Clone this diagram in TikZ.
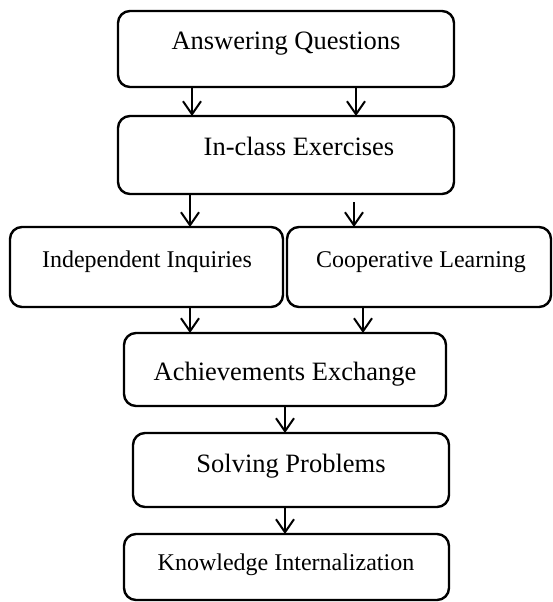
\documentclass[tikz,border=0pt]{standalone}
\usepackage{fontspec}
\setmainfont{Liberation Serif}
\usetikzlibrary{arrows.meta}
\tikzset{
  box/.style={draw, line width=2.4pt, rounded corners=12pt, inner sep=0pt, outer sep=0pt},
  big/.style={font=\fontsize{26.5}{30}\selectfont, anchor=base, inner sep=0pt},
  small/.style={font=\fontsize{24}{28}\selectfont, anchor=base, inner sep=0pt},
  arr/.style={line width=2pt, -{Straight Barb[length=13pt,width=18pt]}}
}
\begin{document}
\begin{tikzpicture}[x=1pt, y=-1pt]
\useasboundingbox (0,0) rectangle (553,602);
% boxes
\node[box, minimum width=336pt, minimum height=76pt] (b1) at (286,49) {};
\node[box, minimum width=336pt, minimum height=78pt] (b2) at (286,155) {};
\node[box, minimum width=273pt, minimum height=80pt] (b3) at (146.5,267) {};
\node[box, minimum width=264pt, minimum height=80pt] (b4) at (419,267) {};
\node[box, minimum width=322pt, minimum height=73pt] (b5) at (285,369.5) {};
\node[box, minimum width=316pt, minimum height=74pt] (b6) at (291,470) {};
\node[box, minimum width=325pt, minimum height=66pt] (b7) at (286.5,567) {};
% texts
\node[big] (t1) at (286,50) {Answering Questions};
\node[big] (t2) at (299,155) {In-class Exercises};
\node[small] (t3) at (147,267.5) {Independent Inquiries};
\node[small] (t4) at (421,267.5) {Cooperative Learning};
\node[big] (t5) at (285,380) {Achievements Exchange};
\node[big] (t6) at (291,472) {Solving Problems};
\node[small] (t7) at (286,570) {Knowledge Internalization};
% arrows
\coordinate (c2r) at (354,202);
\draw[arr] (b1.south -| 192,0) -- (b2.north -| 192,0);
\draw[arr] (b1.south -| 356,0) -- (b2.north -| 356,0);
\draw[arr] (b2.south -| 190,0) -- (b3.north -| 190,0);
\draw[arr] (c2r) -- (b4.north -| 354,0);
\draw[arr] (b3.south -| 190,0) -- (b5.north -| 190,0);
\draw[arr] (b4.south -| 363,0) -- (b5.north -| 363,0);
\draw[arr] (b5.south -| 285,0) -- (b6.north -| 285,0);
\draw[arr] (b6.south -| 285,0) -- (b7.north -| 285,0);
\end{tikzpicture}
\end{document}
